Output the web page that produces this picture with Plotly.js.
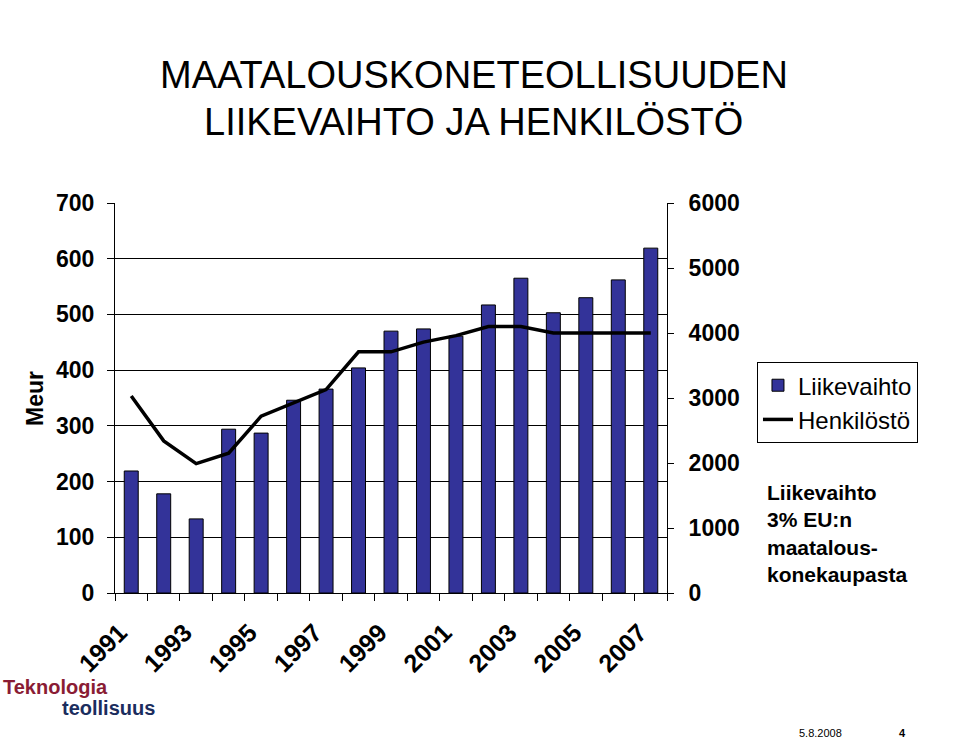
<!DOCTYPE html>
<html>
<head>
<meta charset="utf-8">
<script src="https://cdn.plot.ly/plotly-3.0.1.min.js"></script>
<style>html,body{margin:0;padding:0;background:#fff;}#chart{width:960px;height:739px;}</style>
</head>
<body>
<div id="chart"></div>
<script>
// Data
var years = [1991, 1992, 1993, 1994, 1995, 1996, 1997, 1998, 1999, 2000, 2001, 2002, 2003, 2004, 2005, 2006, 2007];
var liikevaihto = [219, 178, 133, 294, 287, 346, 366, 404, 470, 474, 461, 517, 565, 503, 530, 562, 619];
var henkilosto = [3030, 2340, 1990, 2150, 2720, 2930, 3130, 3710, 3710, 3860, 3960, 4100, 4100, 4000, 4000, 4000, 4000];
var yearLabels = [1991, 1993, 1995, 1997, 1999, 2001, 2003, 2005, 2007];
var tickBounds = [1990.5, 1991.5, 1992.5, 1993.5, 1994.5, 1995.5, 1996.5, 1997.5, 1998.5, 1999.5, 2000.5, 2001.5, 2002.5, 2003.5, 2004.5, 2005.5, 2006.5, 2007.5];
var leftTicks = [0, 100, 200, 300, 400, 500, 600, 700];
var rightTicks = [0, 1000, 2000, 3000, 4000, 5000, 6000];

var FONT = 'Liberation Sans, Arial, sans-serif';

var traces = [
  {
    type: 'bar', name: 'Liikevaihto', x: years, y: liikevaihto,
    xaxis: 'x', yaxis: 'y', width: 0.43,
    marker: {color: '#333399', line: {color: '#000000', width: 1}},
    hoverinfo: 'skip'
  },
  {
    type: 'scatter', mode: 'lines', name: 'Henkilöstö', x: years, y: henkilosto,
    xaxis: 'x', yaxis: 'y2',
    line: {color: '#000000', width: 3.5},
    hoverinfo: 'skip'
  },
  {
    type: 'scatter', mode: 'none', x: yearLabels, y: yearLabels.map(function(){return 0;}),
    xaxis: 'x2', yaxis: 'y', showlegend: false, hoverinfo: 'skip'
  }
];

var layout = {
  width: 960, height: 739,
  margin: {l: 115, r: 293, t: 203, b: 146},
  paper_bgcolor: '#ffffff', plot_bgcolor: 'rgba(0,0,0,0)',
  font: {family: FONT, color: '#000000'},
  showlegend: true,
  legend: {
    x: 1.163, y: 0.592, xanchor: 'left', yanchor: 'top',
    bgcolor: '#ffffff', bordercolor: '#000000', borderwidth: 1,
    font: {family: FONT, size: 24, color: '#000000'},
    tracegroupgap: 0, traceorder: 'normal'
  },
  xaxis: {
    type: 'linear', range: [1990.5, 2007.5],
    tickmode: 'array', tickvals: tickBounds, showticklabels: false,
    ticks: 'outside', ticklen: 7, tickcolor: '#000000', tickwidth: 1,
    showgrid: false, zeroline: false,
    showline: true, linecolor: '#000000', linewidth: 1
  },
  xaxis2: {
    type: 'linear', range: [1990.85, 2007.85], overlaying: 'x', anchor: 'y', side: 'bottom',
    tickmode: 'array', tickvals: yearLabels, ticktext: yearLabels.map(String),
    ticks: '', tickangle: -45, ticklabelstandoff: 19,
    tickfont: {family: FONT, size: 25, weight: 'bold', color: '#000000'},
    showgrid: false, zeroline: false, showline: false
  },
  yaxis: {
    range: [0, 700], tickmode: 'array', tickvals: leftTicks,
    ticks: 'outside', ticklen: 7, tickcolor: '#000000',
    ticklabelstandoff: 8,
    tickfont: {family: FONT, size: 23, weight: 'bold', color: '#000000'},
    showgrid: true, gridcolor: '#000000', gridwidth: 1,
    zeroline: false, showline: true, linecolor: '#000000', linewidth: 1
  },
  yaxis2: {
    range: [0, 6000], overlaying: 'y', side: 'right', anchor: 'x',
    tickmode: 'array', tickvals: rightTicks,
    ticks: 'outside', ticklen: 6, tickcolor: '#000000',
    ticklabelstandoff: 10,
    tickfont: {family: FONT, size: 23, weight: 'bold', color: '#000000'},
    showgrid: false, zeroline: false,
    showline: true, linecolor: '#000000', linewidth: 1
  },
  annotations: [
    {text: 'MAATALOUSKONETEOLLISUUDEN', xref: 'paper', yref: 'paper', x: 0.650, y: 1.328,
     xanchor: 'center', yanchor: 'middle', showarrow: false,
     font: {family: FONT, size: 38, color: '#000000'}},
    {text: 'LIIKEVAIHTO JA HENKILÖSTÖ', xref: 'paper', yref: 'paper', x: 0.650, y: 1.208,
     xanchor: 'center', yanchor: 'middle', showarrow: false,
     font: {family: FONT, size: 38, color: '#000000'}},
    {text: '<b>Meur</b>', xref: 'paper', yref: 'paper', x: -0.145, y: 0.5, textangle: -90,
     xanchor: 'center', yanchor: 'middle', showarrow: false,
     font: {family: FONT, size: 23, color: '#000000'}},
    {text: '<b>Liikevaihto<br>3% EU:n<br>maatalous-<br>konekaupasta</b>', xref: 'paper', yref: 'paper',
     x: 1.1775, y: 0.1526, xanchor: 'left', yanchor: 'middle', align: 'left', showarrow: false,
     font: {family: FONT, size: 21, color: '#000000'}},
    {text: '<b>Teknologia</b>', xref: 'paper', yref: 'paper', x: -0.2065, y: -0.242,
     xanchor: 'left', yanchor: 'middle', showarrow: false,
     font: {family: FONT, size: 20, color: '#8a1c34'}},
    {text: '<b>teollisuus</b>', xref: 'paper', yref: 'paper', x: -0.099, y: -0.295,
     xanchor: 'left', yanchor: 'middle', showarrow: false,
     font: {family: FONT, size: 20, color: '#1b2d5e'}},
    {text: '5.8.2008', xref: 'paper', yref: 'paper', x: 1.2355, y: -0.359,
     xanchor: 'left', yanchor: 'middle', showarrow: false,
     font: {family: FONT, size: 11, color: '#000000'}},
    {text: '<b>4</b>', xref: 'paper', yref: 'paper', x: 1.4275, y: -0.359,
     xanchor: 'center', yanchor: 'middle', showarrow: false,
     font: {family: FONT, size: 11, color: '#000000'}}
  ]
};

Plotly.newPlot('chart', traces, layout, {staticPlot: true, displayModeBar: false});
</script>
</body>
</html>
